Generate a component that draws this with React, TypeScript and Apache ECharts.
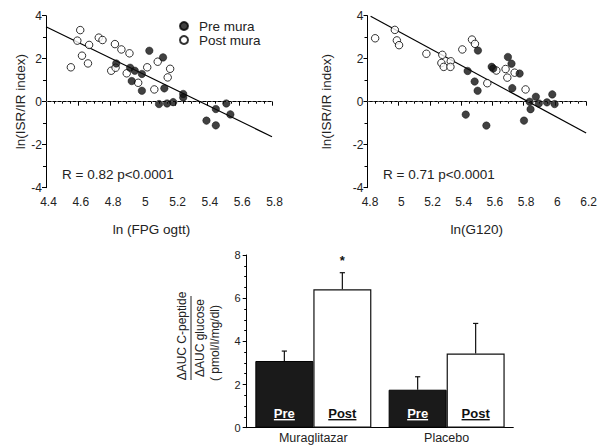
import React, { useEffect, useRef } from "react";
import * as echarts from "echarts";

// ---- Top-left scatter: ln(FPG ogtt) vs ln(ISR/IR index)
const preFpgX = [4.835, 5.04, 5.125, 4.921, 4.95, 4.931, 4.994, 4.994, 5.133, 5.1, 5.15, 5.188, 5.25, 5.25, 5.394, 5.452, 5.452, 5.517, 5.542];
const preFpgY = [1.78, 2.37, 2.06, 1.58, 1.44, 0.96, 1.29, 0.51, 0.62, -0.11, -0.08, -0.02, 0.36, 0.2, -0.88, -1.1, -0.34, -0.08, -0.59];
const postFpgX = [4.554, 4.612, 4.594, 4.623, 4.667, 4.66, 4.727, 4.75, 4.827, 4.867, 4.917, 4.804, 4.831, 4.9, 4.971, 5.027, 5.071, 5.092, 5.154, 5.169];
const postFpgY = [1.6, 3.33, 2.84, 2.14, 2.64, 1.78, 2.98, 2.87, 2.68, 2.43, 2.25, 1.44, 1.58, 1.32, 0.88, 1.6, 0.57, 1.86, 1.13, 1.53];
const fitFpgX = [4.4, 5.8];
const fitFpgY = [3.49, -1.63];

// ---- Top-right scatter: ln(G120) vs ln(ISR/IR index)
const preG120X = [5.507, 5.441, 5.486, 5.505, 5.429, 5.561, 5.595, 5.605, 5.699, 5.722, 5.774, 5.727, 5.802, 5.838, 5.844, 5.878, 5.897, 5.949, 5.983, 5.998];
const preG120Y = [2.38, 1.43, 0.94, 0.51, -0.6, -1.11, 1.62, 1.54, 2.08, 1.77, 1.31, 0.63, -0.88, 0, -0.35, 0.23, -0.08, -0.03, 0.34, -0.11];
const postG120X = [4.849, 4.975, 4.988, 5.002, 5.177, 5.279, 5.273, 5.288, 5.333, 5.331, 5.407, 5.469, 5.488, 5.567, 5.625, 5.684, 5.695, 5.742, 5.812];
const postG120Y = [2.95, 3.34, 2.85, 2.63, 2.23, 2.18, 1.8, 1.62, 1.88, 1.62, 2.43, 2.89, 2.69, 0.86, 1.45, 1.52, 1.12, 1.35, 0.57];
const fitG120X = [4.82, 6.2];
const fitG120Y = [3.97, -1.46];

// ---- Bottom bar chart
const groups = ["Muraglitazar", "Placebo"];
const preMean = [3.09, 1.76];
const preErr = [0.46, 0.6];
const postMean = [6.41, 3.44];
const postErr = [0.77, 1.39];
const postSig = ["*", ""];
const barLabels = ["Pre", "Post"];

const FONT = '"Liberation Sans", Arial, sans-serif';
const BAR_W = 58;

const zip = (xs: number[], ys: number[]) => xs.map((x, i) => [x, ys[i]]);

function measure(text: string, font: string): number {
  const ctx = document.createElement("canvas").getContext("2d");
  if (!ctx) return text.length * 7;
  ctx.font = font;
  return ctx.measureText(text).width;
}

const filledStyle = { color: "#111", borderColor: "#000", borderWidth: 0.5 };
const openStyle = { color: "#fff", borderColor: "#000", borderWidth: 1 };

function scatterAxes(min: number, max: number) {
  return {
    x: {
      type: "value",
      min,
      max,
      interval: 0.2,
      axisLine: { show: true, lineStyle: { color: "#000", width: 1 } },
      axisTick: { show: true, length: 4, lineStyle: { color: "#000" } },
      minorTick: { show: true, splitNumber: 4, length: 2, lineStyle: { color: "#000" } },
      splitLine: { show: false },
      axisLabel: { color: "#222", fontSize: 12, fontFamily: FONT, margin: 8, padding: [0, 0, 0, 5] },
      nameLocation: "middle",
      nameTextStyle: { color: "#222", fontSize: 13.5, fontFamily: FONT },
    },
    y: {
      type: "value",
      min: -4,
      max: 4,
      interval: 2,
      axisLine: { show: true, lineStyle: { color: "#000", width: 1 } },
      axisTick: { show: true, length: 4, lineStyle: { color: "#000" } },
      minorTick: { show: true, splitNumber: 2, length: 3, lineStyle: { color: "#000" } },
      splitLine: { show: false },
      axisLabel: { color: "#222", fontSize: 12, fontFamily: FONT, margin: 4 },
      name: "ln(ISR/IR index)",
      nameLocation: "middle",
      nameTextStyle: { color: "#222", fontSize: 13.5, fontFamily: FONT },
    },
  };
}

const zeroLine = {
  silent: true,
  symbol: ["none", "none"],
  label: { show: false },
  lineStyle: { type: [2, 3], color: "#555", width: 1 },
  data: [{ yAxis: 0 }],
};

const legendBase = {
  orient: "vertical",
  left: 174,
  itemWidth: 20,
  itemHeight: 8,
  textStyle: { color: "#222", fontSize: 13.5, fontFamily: FONT },
};

export default function App() {
  const ref = useRef<HTMLDivElement>(null);

  useEffect(() => {
    if (!ref.current) return;
    const chart = echarts.init(ref.current, null, { renderer: "svg" });

    const a1 = scatterAxes(4.4, 5.8);
    const a2 = scatterAxes(4.8, 6.2);

    const labelFont = `bold 13px ${FONT}`;

    const errData = [
      ...preMean.map((m, i) => [i, m, preErr[i], -1]),
      ...postMean.map((m, i) => [i, m, postErr[i], 1]),
    ];
    const errSig = [...preMean.map(() => ""), ...postSig];

    const labelData = [
      ...groups.map((_, i) => [i, -1]),
      ...groups.map((_, i) => [i, 1]),
    ];

    const option: any = {
      animation: false,
      textStyle: { fontFamily: FONT },
      grid: [
        { left: 46, top: 15.7, width: 226, height: 172 },
        { left: 367.5, top: 15.7, width: 219, height: 172 },
        { left: 246.7, top: 255, width: 266.6, height: 172.7 },
      ],
      legend: [
        { ...legendBase, top: 14, data: ["Pre mura"] },
        { ...legendBase, top: 28, data: ["Post mura"] },
      ],
      xAxis: [
        { ...a1.x, gridIndex: 0, name: "ln (FPG ogtt)", nameGap: 35, nameTextStyle: { ...a1.x.nameTextStyle, padding: [0, 15, 0, 0] } },
        { ...a2.x, gridIndex: 1, name: "ln(G120)", nameGap: 35 },
        {
          type: "category",
          gridIndex: 2,
          data: groups,
          axisLine: { show: true, lineStyle: { color: "#000", width: 1 } },
          axisTick: { show: false },
          axisLabel: { color: "#222", fontSize: 12.5, fontFamily: FONT, margin: 4 },
        },
      ],
      yAxis: [
        { ...a1.y, gridIndex: 0, nameGap: 3 },
        { ...a2.y, gridIndex: 1, nameGap: 34 },
        {
          type: "value",
          gridIndex: 2,
          min: 0,
          max: 8,
          interval: 2,
          axisLine: { show: true, lineStyle: { color: "#000", width: 1 } },
          axisTick: { show: true, length: 4, lineStyle: { color: "#000" } },
          minorTick: { show: true, splitNumber: 4, length: 2.5, lineStyle: { color: "#000" } },
          splitLine: { show: false },
          axisLabel: { color: "#222", fontSize: 11, fontFamily: FONT, margin: 6 },
        },
      ],
      graphic: [
        { type: "text", left: 62, top: 167, style: { text: "R = 0.82 p<0.0001", fill: "#222", font: `13.5px ${FONT}` } },
        { type: "text", left: 383, top: 167, style: { text: "R = 0.71 p<0.0001", fill: "#222", font: `13.5px ${FONT}` } },
        { type: "text", x: 182, y: 336, rotation: Math.PI / 2, style: { text: "ΔAUC C-peptide", align: "center", verticalAlign: "middle", fill: "#222", font: `12px ${FONT}` } },
        { type: "line", shape: { x1: 191, y1: 296, x2: 191, y2: 380 }, style: { stroke: "#222", lineWidth: 1 } },
        { type: "text", x: 200, y: 338, rotation: Math.PI / 2, style: { text: "ΔAUC glucose", align: "center", verticalAlign: "middle", fill: "#222", font: `12px ${FONT}` } },
        { type: "text", x: 215, y: 343, rotation: Math.PI / 2, style: { text: "( pmol/l/mg/dl)", align: "center", verticalAlign: "middle", fill: "#222", font: `12px ${FONT}` } },
      ],
      series: [
        { name: "Post mura", type: "scatter", xAxisIndex: 0, yAxisIndex: 0, symbol: "circle", symbolSize: 7.5, itemStyle: openStyle, data: zip(postFpgX, postFpgY) },
        { name: "Pre mura", type: "scatter", xAxisIndex: 0, yAxisIndex: 0, symbol: "circle", symbolSize: 7.5, itemStyle: filledStyle, data: zip(preFpgX, preFpgY) },
        { type: "line", xAxisIndex: 0, yAxisIndex: 0, showSymbol: false, symbol: "none", lineStyle: { color: "#000", width: 1.2 }, data: zip(fitFpgX, fitFpgY), markLine: zeroLine, z: 1 },
        { name: "Post mura", type: "scatter", xAxisIndex: 1, yAxisIndex: 1, symbol: "circle", symbolSize: 7.5, itemStyle: openStyle, data: zip(postG120X, postG120Y) },
        { name: "Pre mura", type: "scatter", xAxisIndex: 1, yAxisIndex: 1, symbol: "circle", symbolSize: 7.5, itemStyle: filledStyle, data: zip(preG120X, preG120Y) },
        { type: "line", xAxisIndex: 1, yAxisIndex: 1, showSymbol: false, symbol: "none", lineStyle: { color: "#000", width: 1.2 }, data: zip(fitG120X, fitG120Y), markLine: zeroLine, z: 1 },
        {
          type: "bar", xAxisIndex: 2, yAxisIndex: 2, barWidth: BAR_W, barGap: "0%",
          itemStyle: { color: "#1a1a1a", borderColor: "#000", borderWidth: 1 },
          data: preMean,
        },
        {
          type: "bar", xAxisIndex: 2, yAxisIndex: 2, barWidth: BAR_W, barGap: "0%",
          itemStyle: { color: "#fff", borderColor: "#111", borderWidth: 1.2 },
          data: postMean,
        },
        {
          type: "custom", xAxisIndex: 2, yAxisIndex: 2, clip: false, z: 5,
          encode: { x: 0, y: 1 },
          data: errData,
          renderItem: (params: any, api: any) => {
            const ci = api.value(0);
            const m = api.value(1);
            const e = api.value(2);
            const side = api.value(3);
            const b = api.coord([ci, m]);
            const t = api.coord([ci, m + e]);
            const x = b[0] + (side * BAR_W) / 2;
            const children: any[] = [
              { type: "line", shape: { x1: x, y1: b[1], x2: x, y2: t[1] }, style: { stroke: "#111", lineWidth: 1.2 } },
              { type: "line", shape: { x1: x - 2.6, y1: t[1], x2: x + 2.6, y2: t[1] }, style: { stroke: "#111", lineWidth: 1.2 } },
            ];
            const s = errSig[params.dataIndex];
            if (s) {
              children.push({ type: "text", style: { text: s, x, y: t[1] - 12, align: "center", verticalAlign: "middle", fill: "#111", font: `bold 13px ${FONT}` } });
            }
            return { type: "group", children };
          },
        },
        {
          type: "custom", xAxisIndex: 2, yAxisIndex: 2, clip: false, z: 6,
          encode: { x: 0, y: 1 },
          data: labelData,
          renderItem: (params: any, api: any) => {
            const ci = api.value(0);
            const side = api.value(1);
            const p = api.coord([ci, 0]);
            const x = p[0] + (side * BAR_W) / 2;
            const txt = side < 0 ? barLabels[0] : barLabels[1];
            const color = side < 0 ? "#fff" : "#111";
            const w = measure(txt, labelFont);
            return {
              type: "group",
              children: [
                { type: "text", style: { text: txt, x, y: p[1] - 14.5, align: "center", verticalAlign: "middle", fill: color, font: labelFont } },
                { type: "line", shape: { x1: x - w / 2, y1: p[1] - 8, x2: x + w / 2, y2: p[1] - 8 }, style: { stroke: color, lineWidth: 1.4 } },
              ],
            };
          },
        },
      ],
    };

    chart.setOption(option);
    return () => chart.dispose();
  }, []);

  return (
    <div
      ref={ref}
      style={{ position: "fixed", left: 0, top: 0, width: 600, height: 446, background: "#fff" }}
    />
  );
}
